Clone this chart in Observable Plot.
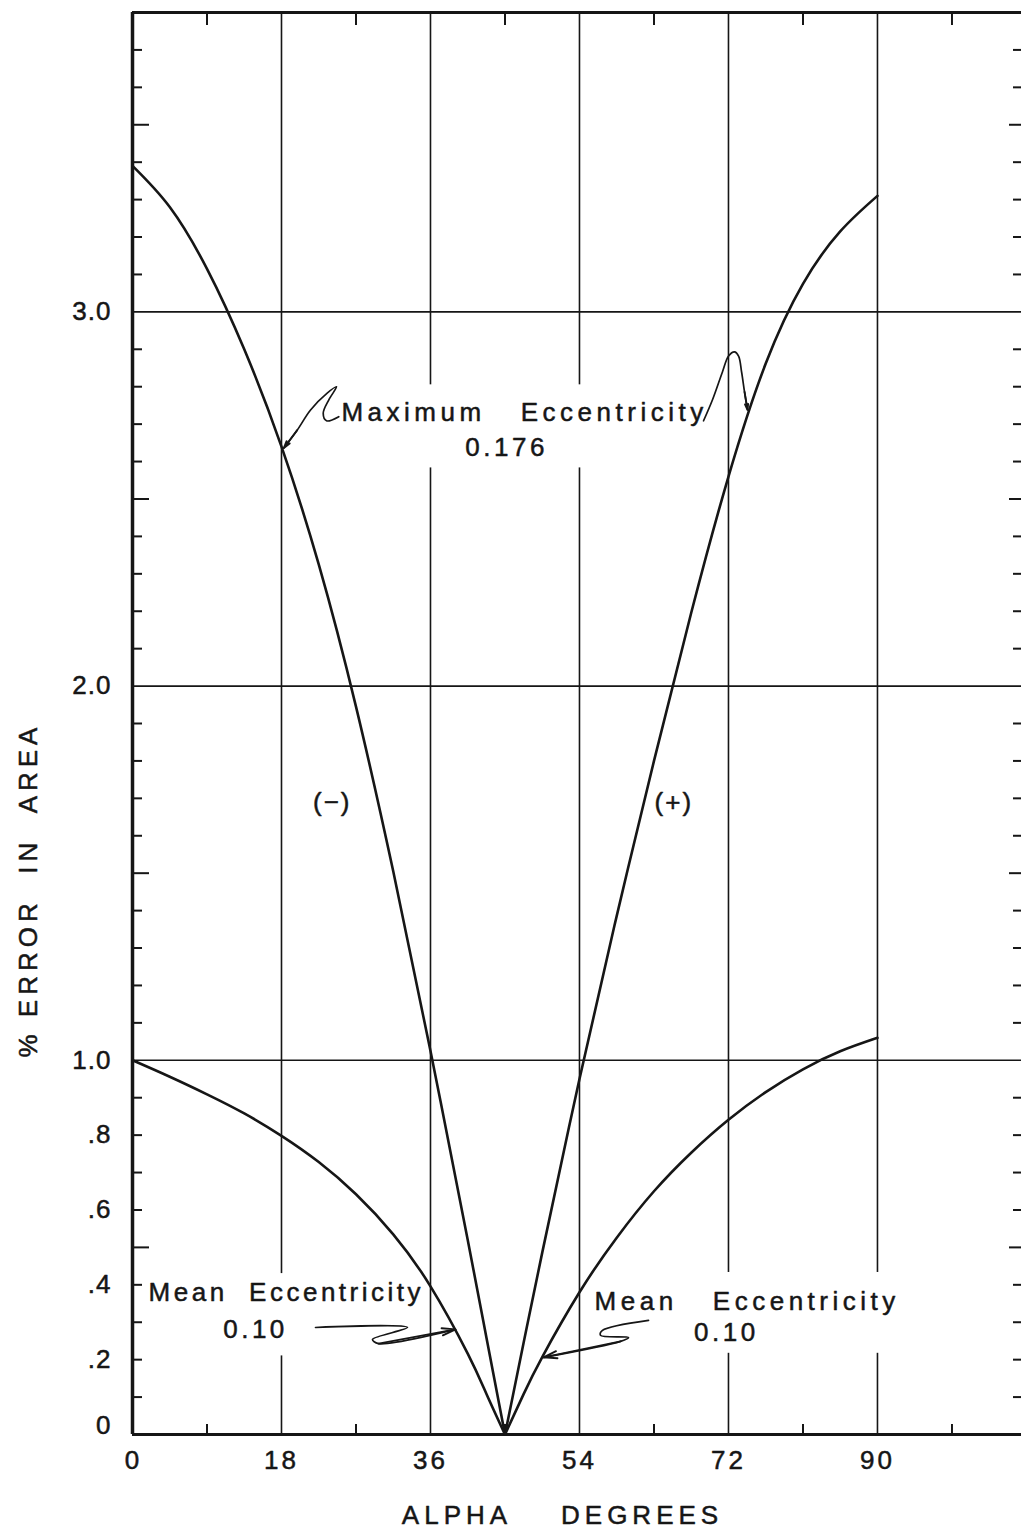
<!DOCTYPE html>
<html>
<head>
<meta charset="utf-8">
<script src="https://cdn.jsdelivr.net/npm/d3@7"></script>
<script src="https://cdn.jsdelivr.net/npm/@observablehq/plot@0.6"></script>
<style>
  html, body { margin: 0; padding: 0; background: #fff; }
  #chart svg text { letter-spacing: 1px; }
</style>
</head>
<body>
<div id="chart"></div>
<script>
// Alpha (degrees) sample positions for each half of the chart
const alphaLeft  = [0, 4.5, 9, 13.5, 18, 22.5, 27, 31.5, 36, 40.5, 42.75, 45];
const alphaRight = [45, 47.25, 49.5, 54, 58.5, 63, 67.5, 72, 76.5, 81, 85.5, 90];

// % error in area, maximum eccentricity 0.176
const maxEccMinus = [3.39, 3.28, 3.115, 2.90, 2.64, 2.325, 1.945, 1.505, 1.025, 0.52, 0.26, 0];
const maxEccPlus  = [0, 0.245, 0.486, 0.95, 1.386, 1.80, 2.196, 2.56, 2.862, 3.075, 3.215, 3.31];

// % error in area, mean eccentricity 0.10
const meanEccMinus = [1.00, 0.956, 0.909, 0.858, 0.798, 0.728, 0.642, 0.535, 0.396, 0.216, 0.109, 0];
const meanEccPlus  = [0, 0.108, 0.207, 0.38, 0.526, 0.65, 0.753, 0.841, 0.915, 0.976, 1.024, 1.06];

// Axis ticks and labels
const xLabelTicks = [0, 18, 36, 54, 72, 90];
const xOddTicks = [9, 27, 45, 63, 81, 99];
const yLabelTicks = [0.2, 0.4, 0.6, 0.8, 1, 2, 3];
const yLabelText = [".2", ".4", ".6", ".8", "1.0", "2.0", "3.0"];
const yMinorTicks = [0.1, 0.2, 0.3, 0.4, 0.6, 0.7, 0.8, 0.9, 1.1, 1.2, 1.3, 1.4, 1.6, 1.7, 1.8, 1.9,
                     2.1, 2.2, 2.3, 2.4, 2.6, 2.7, 2.8, 2.9, 3.1, 3.2, 3.3, 3.4, 3.6, 3.7];
const yHalfTicks = [0.5, 1.5, 2.5, 3.5];
const xGrid = [18, 36, 54, 72, 90];
const yGrid = [1, 2, 3];

// In-plot annotations
const labelText = ["Maximum\u00a0\u00a0\u00a0Eccentricity", "0.176", "(\u2212)", "(+)",
                   "Mean\u00a0\u00a0Eccentricity", "0.10", "Mean\u00a0\u00a0\u00a0Eccentricity", "0.10"];
const labelAlpha = [47.36, 45.2, 24.13, 65.4, 18.58, 14.86, 74.26, 71.74];
const labelError = [2.730, 2.638, 1.689, 1.689, 0.380, 0.281, 0.354, 0.271];
const labelSpacing = [4.5, 3.5, 2, 2, 3.5, 3.5, 4.5, 3.5];

// Clear areas behind the annotation text (grid lines are interrupted there)
const gapAlpha1 = [25.1, 1.6, 55.3];
const gapAlpha2 = [68.2, 35.4, 92.8];
const gapError1 = [2.583, 0.21, 0.217];
const gapError2 = [2.805, 0.43, 0.433];

// Hand-drawn leader lines from the annotations to the curves
const leaderMaxLeft = [[24.92, 2.720], [23.44, 2.709], [23.04, 2.729], [23.72, 2.765], [24.65, 2.800],
                       [23.52, 2.783], [21.51, 2.738], [19.90, 2.684], [18.28, 2.636]];
const leaderMaxRight = [[68.99, 2.709], [70.07, 2.765], [71.28, 2.840], [72.01, 2.882], [72.73, 2.893],
                        [73.22, 2.882], [73.58, 2.840], [73.94, 2.786], [74.30, 2.738]];
const leaderMeanLeft = [[22.11, 0.286], [33.22, 0.286], [28.99, 0.254], [29.72, 0.243], [39.02, 0.281]];
const leaderMeanRight = [[62.34, 0.305], [56.78, 0.278], [56.54, 0.265], [59.93, 0.259], [58.96, 0.249], [49.66, 0.206]];

// Tables for the marks
const curves = [
  ...alphaLeft.map((a, i) => ({alpha: a, err: maxEccMinus[i], series: "max-"})),
  ...alphaRight.map((a, i) => ({alpha: a, err: maxEccPlus[i], series: "max+"})),
  ...alphaLeft.map((a, i) => ({alpha: a, err: meanEccMinus[i], series: "mean-"})),
  ...alphaRight.map((a, i) => ({alpha: a, err: meanEccPlus[i], series: "mean+"}))
];
const leaders = [leaderMaxLeft, leaderMaxRight, leaderMeanLeft, leaderMeanRight];
const leaderRows = leaders.flatMap((pts, k) => pts.map(([a, e]) => ({alpha: a, err: e, leader: k})));
const arrowRows = leaders.map(pts => {
  const [a1, e1] = pts[pts.length - 2], [a2, e2] = pts[pts.length - 1];
  return {a1, e1, a2, e2};
});
const labels = labelText.map((t, i) => ({text: t, alpha: labelAlpha[i], err: labelError[i], spacing: labelSpacing[i]}));
const gaps = gapAlpha1.map((a, i) => ({a1: a, a2: gapAlpha2[i], e1: gapError1[i], e2: gapError2[i]}));

const ink = "#161616";
const font = "Liberation Sans, Arial, sans-serif";
// lettering weight: a thin outline under the fill thickens the glyphs a little
const letter = {fill: ink, stroke: ink, strokeWidth: 0.5, fontSize: 26};

const chart = Plot.plot({
  width: 1021,
  height: 1538,
  marginLeft: 132,
  marginRight: 0,
  marginTop: 12,
  marginBottom: 104,
  x: {domain: [0, 107.4], axis: null},
  y: {domain: [0, 3.8], axis: null},
  style: {fontFamily: font, fontSize: "26px", color: ink, background: "#fff"},
  marks: [
    // grid
    Plot.ruleX(xGrid, {stroke: ink, strokeWidth: 1.6}),
    Plot.ruleY(yGrid, {stroke: ink, strokeWidth: 1.6}),
    // interruptions behind the annotation text
    Plot.rect(gaps, {x1: "a1", x2: "a2", y1: "e1", y2: "e2", fill: "#fff"}),
    // frame
    Plot.ruleX([0], {stroke: ink, strokeWidth: 3.5}),
    Plot.ruleY([0], {stroke: ink, strokeWidth: 3}),
    Plot.ruleY([3.8], {stroke: ink, strokeWidth: 3}),
    // inward ticks
    Plot.axisY(yMinorTicks, {anchor: "left", tickSize: -10, strokeWidth: 2, stroke: ink, fill: "none"}),
    Plot.axisY(yHalfTicks, {anchor: "left", tickSize: -17, strokeWidth: 2, stroke: ink, fill: "none"}),
    Plot.axisY(yMinorTicks, {anchor: "right", tickSize: -9, strokeWidth: 2, stroke: ink, fill: "none"}),
    Plot.axisY(yHalfTicks, {anchor: "right", tickSize: -13, strokeWidth: 2, stroke: ink, fill: "none"}),
    Plot.axisX(xOddTicks, {anchor: "top", tickSize: -12, strokeWidth: 2, stroke: ink, fill: "none"}),
    Plot.axisX(xOddTicks, {anchor: "bottom", tickSize: -10, strokeWidth: 2, stroke: ink, fill: "none"}),
    // tick labels
    Plot.text(xLabelTicks, {x: d => d, frameAnchor: "bottom", dy: 34, ...letter}),
    Plot.text(yLabelTicks, {y: d => d, text: (d, i) => yLabelText[i], frameAnchor: "left", textAnchor: "end", dx: -21, ...letter}),
    Plot.text([0], {y: d => d, text: () => "0", frameAnchor: "left", textAnchor: "end", dx: -21, dy: -9, ...letter}),
    // axis titles
    Plot.text(["%\u00a0ERROR\u00a0\u00a0IN\u00a0\u00a0AREA"], {y: [1.455], frameAnchor: "left", textAnchor: "middle", dx: -104, rotate: -90, ...letter}),
    Plot.text(["ALPHA\u00a0\u00a0\u00a0\u00a0DEGREES"], {x: [51.95], frameAnchor: "bottom", dy: 89, ...letter}),
    // curves
    Plot.line(curves, {x: "alpha", y: "err", z: "series", curve: "natural", stroke: ink, strokeWidth: 2.6}),
    // leaders
    Plot.line(leaderRows, {x: "alpha", y: "err", z: "leader", curve: "catmull-rom", stroke: ink, strokeWidth: 1.7}),
    Plot.arrow(arrowRows, {x1: "a1", y1: "e1", x2: "a2", y2: "e2", stroke: ink, strokeWidth: 1.9, headLength: 11, headAngle: 30}),
    // annotations
    Plot.text(labels, {x: "alpha", y: "err", text: "text", ...letter})
  ]
});

document.getElementById("chart").appendChild(chart);

// per-annotation letter spacing
const spacingByText = new Map(labels.map(d => [d.text, d.spacing]));
spacingByText.set("ALPHA\u00a0\u00a0\u00a0\u00a0DEGREES", 5);
spacingByText.set("%\u00a0ERROR\u00a0\u00a0IN\u00a0\u00a0AREA", 5);
["18", "36", "54", "72", "90"].forEach(t => spacingByText.set(t, 3));
d3.select(chart).selectAll("text").each(function () {
  const s = spacingByText.get(this.textContent);
  if (s != null) this.style.letterSpacing = s + "px";
});
</script>
</body>
</html>
